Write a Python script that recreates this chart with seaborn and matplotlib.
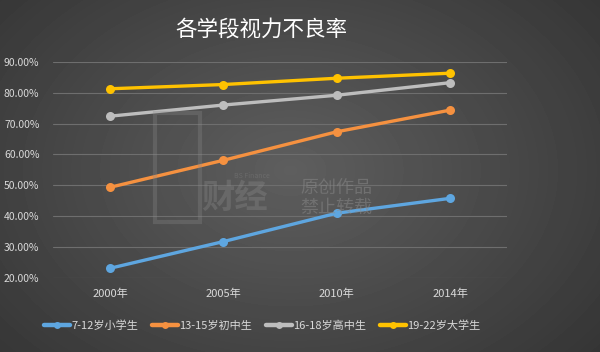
import matplotlib

matplotlib.use("Agg")
import matplotlib.pyplot as plt
import numpy as np
import pandas as pd
import seaborn as sns
from matplotlib.lines import Line2D
from matplotlib.patches import Rectangle

YEARS = ["2000年", "2005年", "2010年", "2014年"]
SERIES = ["7-12岁小学生", "13-15岁初中生", "16-18岁高中生", "19-22岁大学生"]
PRIMARY = [23.0, 31.67, 40.89, 45.71]
JUNIOR = [49.3, 58.07, 67.33, 74.36]
SENIOR = [72.4, 76.02, 79.20, 83.28]
COLLEGE = [81.3, 82.68, 84.72, 86.36]
COLORS = ["#5ea6e0", "#f59140", "#bdbdbd", "#ffc200"]

TEXT = "#d9d9d9"
MARK = "#8a8a8a"


def gradient_background(fig) -> None:
    bg = fig.add_axes([0, 0, 1, 1], zorder=-10)
    h, w = 352, 600
    yy, xx = np.mgrid[0:h, 0:w]
    r = np.sqrt(((xx - 290) / 420) ** 2 + ((yy - 170) / 300) ** 2)
    shade = 0.37 - 0.17 * np.clip(r, 0, 1)
    bg.imshow(shade, cmap="gray", vmin=0, vmax=1, aspect="auto", extent=[0, 1, 0, 1])
    bg.axis("off")


def watermark(fig) -> None:
    fig.patches.append(Rectangle((0.258, 0.37), 0.075, 0.31, transform=fig.transFigure,
                                 fill=False, edgecolor=MARK, alpha=0.3, linewidth=3))
    fig.text(0.335, 0.435, "财经", color=MARK, alpha=0.35,
             fontsize=24, ha="left", va="center", fontweight="bold")
    fig.text(0.39, 0.5, "BS Finance", color=MARK, alpha=0.35, fontsize=5,
             ha="left", va="center")
    fig.text(0.5, 0.437, "原创作品\n禁止转载", color=MARK, alpha=0.5,
             fontsize=13, ha="left", va="center", linespacing=1.1)


def main() -> None:
    sns.set_theme(style="white")
    plt.rcParams["font.family"] = ["Noto Sans CJK SC", "DejaVu Sans"]

    df = pd.DataFrame(
        {
            "year": YEARS * 4,
            "group": [s for s in SERIES for _ in YEARS],
            "rate": PRIMARY + JUNIOR + SENIOR + COLLEGE,
        }
    )

    fig = plt.figure(figsize=(6, 3.52), dpi=100)
    gradient_background(fig)
    watermark(fig)
    ax = fig.add_axes([0.0889, 0.2116, 0.7556, 0.6123])
    ax.set_facecolor("none")

    sns.lineplot(
        data=df, x="year", y="rate", hue="group", palette=COLORS,
        marker="o", markersize=6.5, markeredgewidth=0, linewidth=2.4,
        legend=False, ax=ax,
    )

    ax.set_xlim(-0.5, 3.5)
    ax.set_ylim(20, 90)
    ax.set_yticks(np.arange(20, 91, 10))
    ax.set_yticklabels([f"{v:.2f}%" for v in np.arange(20, 91, 10)])
    ax.yaxis.grid(True, color="#6e6e6e", linewidth=0.8)
    ax.xaxis.grid(False)
    for s in ax.spines.values():
        s.set_visible(False)
    ax.tick_params(axis="both", length=0, colors=TEXT, labelsize=8)
    ax.tick_params(axis="y", labelsize=7.5, pad=10)
    ax.tick_params(axis="x", pad=8)
    ax.set_xlabel("")
    ax.set_ylabel("")

    fig.text(0.435, 0.915, "各学段视力不良率", color="white", fontsize=15.5,
             ha="center", va="center")

    handles = [
        Line2D([0], [0], color=c, marker="o", markersize=5, markeredgewidth=0, linewidth=3.2)
        for c in COLORS
    ]
    leg = fig.legend(
        handles, SERIES, loc="center", bbox_to_anchor=(0.437, 0.074), ncol=4,
        frameon=False, fontsize=8, handlelength=2.4, handletextpad=0.1,
        columnspacing=1.2,
    )
    for t in leg.get_texts():
        t.set_color(TEXT)

    fig.savefig("out.png", dpi=100)


if __name__ == "__main__":
    main()
